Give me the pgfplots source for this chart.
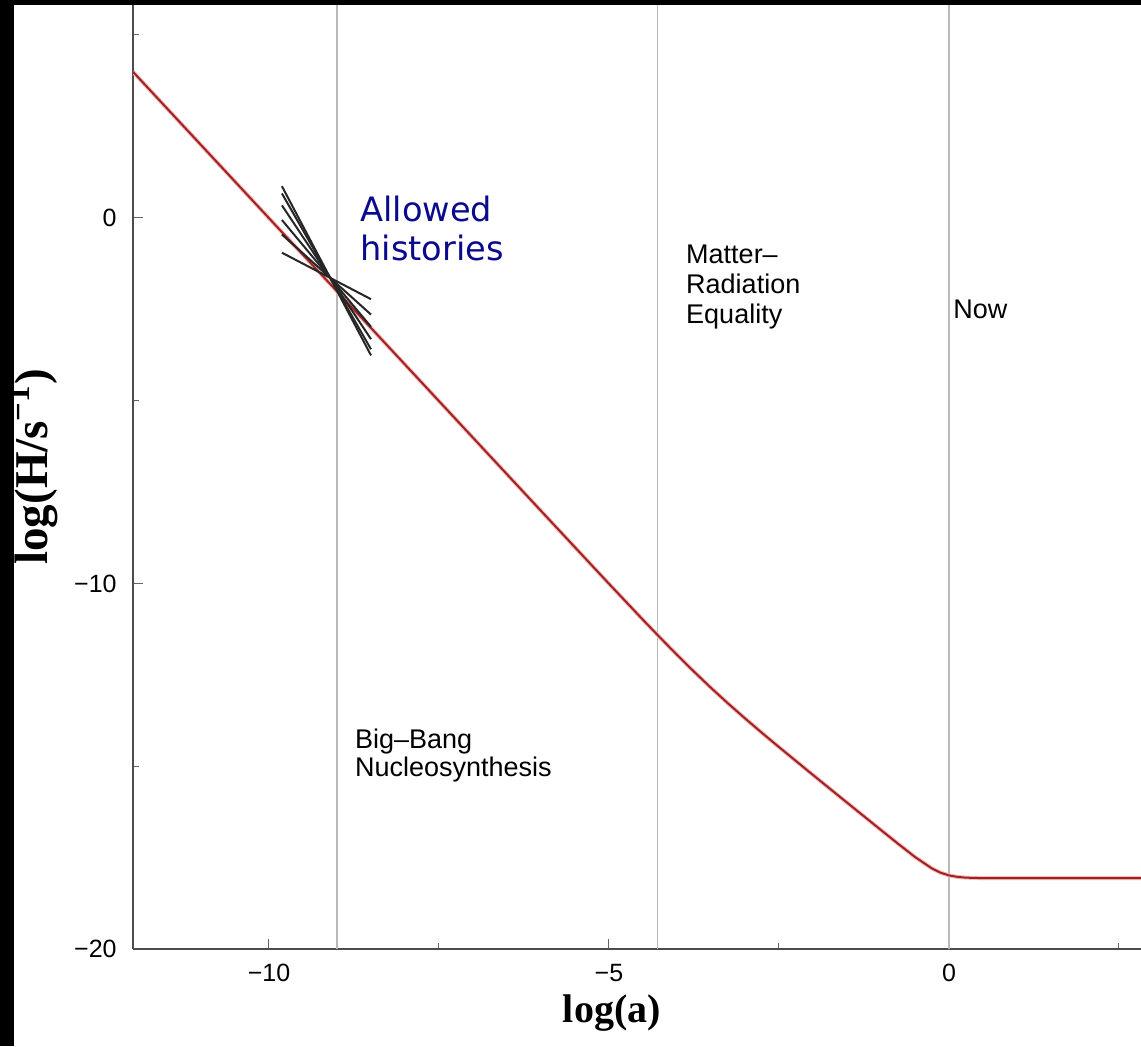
\documentclass[border=0pt]{standalone}
\usepackage{pgfplots}
\pgfplotsset{compat=1.18}
\usepackage{fontspec}
\setmainfont{Liberation Sans}
\newfontfamily\lserif{Liberation Serif}
\newfontfamily\dejavu{DejaVu Sans}
\definecolor{navytext}{RGB}{10,10,140}
\definecolor{curvecore}{RGB}{160,35,35}
\definecolor{curvehalo}{RGB}{245,185,185}
\begin{document}
\begin{tikzpicture}
\path[use as bounding box] (0,0) rectangle (570.5pt,523pt);
\fill[black] (0,0) rectangle (570.5pt,523pt);
\fill[white] (7pt,0) rectangle (570.5pt,520.5pt);
\begin{axis}[
  at={(66.5pt,48.35pt)}, anchor=south west,
  scale only axis, width=504pt, height=472pt,
  xmin=-12, xmax=2.824, ymin=-20, ymax=5.8,
  axis lines*=left,
  axis line style={black!70, line width=0.9pt},
  tick align=inside,
  major tick length=5pt, minor tick length=3pt,
  tick style={black!60, line width=0.5pt},
  xtick={-10,-5,0}, xticklabels={−10,−5,0},
  minor xtick={-7.5,-2.5,2.5},
  ytick={-20,-10,0}, yticklabels={−20,−10,0},
  minor ytick={-15,-5,5},
  xticklabel style={font=\fontsize{12.5}{15}\selectfont, anchor=base, inner sep=0pt, yshift=-16pt},
  yticklabel style={font=\fontsize{12.5}{15}\selectfont, anchor=east, inner sep=0pt, xshift=-8pt},
  xlabel={\lserif\bfseries log(a)},
  ylabel={\lserif\bfseries log(H/s\textsuperscript{−1})},
  xlabel style={font=\fontsize{20}{24}\selectfont, at={(rel axis cs:0.475,0)}, anchor=base, inner sep=0pt, yshift=-36.4pt},
  ylabel style={font=\fontsize{23.5}{26}\selectfont, at={(rel axis cs:0,0.511)}, anchor=center, inner sep=0pt, yshift=50pt},
  clip=true,
]
% vertical reference lines
\addplot[gray!55, line width=0.6pt] coordinates {(-9,-20) (-9,5.8)};
\addplot[gray!55, line width=0.6pt] coordinates {(-4.29,-20) (-4.29,5.8)};
\addplot[gray!55, line width=0.6pt] coordinates {(0,-20) (0,5.8)};
% Hubble rate curve
\pgfplotstableread{
x y
-12 3.982
-11 1.982
-10 -0.018
-9 -2.018
-8 -4.018
-7 -6.018
-6 -8.017
-5 -10.010
-4.5 -10.995
-4.25 -11.478
-4 -11.952
-3.75 -12.411
-3.5 -12.854
-3.25 -13.279
-3 -13.688
-2.75 -14.085
-2.5 -14.473
-2 -15.235
-1.75 -15.613
-1.5 -15.990
-1.25 -16.365
-1 -16.740
-0.75 -17.113
-0.5 -17.476
-0.25 -17.791
-0.125 -17.905
0 -17.980
0.125 -18.021
0.25 -18.042
0.5 -18.055
1 -18.057
2 -18.057
3 -18.057
}\hubble
\addplot[curvehalo, line width=2pt] table {\hubble};
\addplot[curvecore, line width=1pt] table {\hubble};
% allowed histories fan
\addplot[black!85, line width=1pt] coordinates {(-9.81,-0.961) (-8.5,-2.232)};
\addplot[black!85, line width=1pt] coordinates {(-9.81,-0.464) (-8.5,-2.652)};
\addplot[black!85, line width=1pt] coordinates {(-9.81,-0.067) (-8.5,-2.988)};
\addplot[black!85, line width=1pt] coordinates {(-9.81,0.331) (-8.5,-3.324)};
\addplot[black!85, line width=1pt] coordinates {(-9.81,0.658) (-8.5,-3.600)};
\addplot[black!85, line width=1pt] coordinates {(-9.81,0.856) (-8.5,-3.768)};
% annotations
\node[anchor=base west, inner sep=0pt, text=navytext, font=\dejavu\fontsize{16.8}{20}\selectfont] at (axis cs:-8.66,-0.12) {Allowed};
\node[anchor=base west, inner sep=0pt, text=navytext, font=\dejavu\fontsize{16.8}{20}\selectfont] at (axis cs:-8.66,-1.17) {histories};
\node[anchor=base west, inner sep=0pt, font=\fontsize{13.5}{16}\selectfont] at (axis cs:-3.87,-1.25) {Matter–};
\node[anchor=base west, inner sep=0pt, font=\fontsize{13.5}{16}\selectfont] at (axis cs:-3.87,-2.07) {Radiation};
\node[anchor=base west, inner sep=0pt, font=\fontsize{13.5}{16}\selectfont] at (axis cs:-3.87,-2.89) {Equality};
\node[anchor=base west, inner sep=0pt, font=\fontsize{13.5}{16}\selectfont] at (axis cs:0.06,-2.76) {Now};
\node[anchor=base west, inner sep=0pt, font=\fontsize{13.5}{16}\selectfont] at (axis cs:-8.74,-14.50) {Big–Bang};
\node[anchor=base west, inner sep=0pt, font=\fontsize{13.5}{16}\selectfont] at (axis cs:-8.74,-15.29) {Nucleosynthesis};
\end{axis}
\end{tikzpicture}
\end{document}
